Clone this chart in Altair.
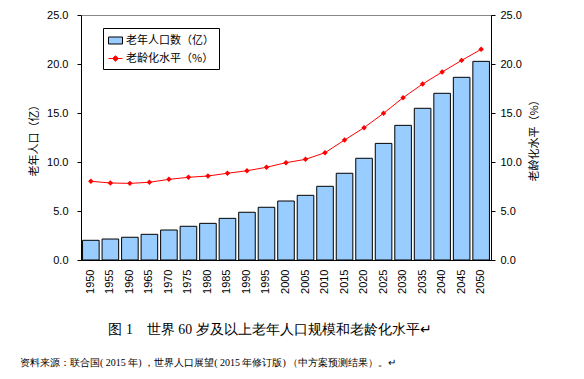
import altair as alt
import pandas as pd

years = [str(y) for y in range(1950, 2051, 5)]
elderly_pop = [2.01, 2.14, 2.32, 2.62, 3.06, 3.44, 3.74, 4.25, 4.87, 5.38, 6.02,
               6.60, 7.52, 8.85, 10.38, 11.90, 13.74, 15.48, 17.01, 18.64, 20.27]
ageing_rate = [8.03, 7.86, 7.82, 7.93, 8.23, 8.44, 8.57, 8.85, 9.11, 9.46, 9.93,
               10.27, 10.95, 12.24, 13.50, 14.97, 16.56, 17.96, 19.18, 20.37, 21.50]
series_names = ['老年人口数（亿）', '老龄化水平（%）']
y_ticks = [0, 5, 10, 15, 20, 25]
caption = '图 1　世界 60 岁及以上老年人口规模和老龄化水平↵'
source = '资料来源：联合国( 2015 年) ，世界人口展望( 2015 年修订版) （中方案预测结果）。↵'

df = pd.DataFrame({'year': years, 'pop': elderly_pop, 'rate': ageing_rate})
legend_df = pd.DataFrame({'series': series_names})

NUM_FONT = 'Liberation Sans'
CJK_FONT = 'Noto Sans CJK SC'

x_enc = alt.X('year:O', title=None,
              scale=alt.Scale(paddingInner=0.15, paddingOuter=0.08),
              axis=alt.Axis(labelAngle=270, ticks=False, labelPadding=9,
                            labelFont=NUM_FONT, labelFontSize=11,
                            labelColor='black', domainColor='black'))

bars = alt.Chart(df).mark_bar(fill='#99CCFF', stroke='black', strokeWidth=1).encode(
    x=x_enc,
    y=alt.Y('pop:Q', scale=alt.Scale(domain=[0, 25], nice=False),
            axis=alt.Axis(values=y_ticks, format='.1f', title='老年人口（亿）',
                          grid=False, tickSize=4, tickColor='black',
                          domainColor='black', labelPadding=9,
                          labelFont=NUM_FONT, labelFontSize=11, labelColor='black',
                          titleFont=CJK_FONT, titleFontSize=11, titleFontWeight='normal',
                          titleColor='black', titlePadding=7))
)

right_y = alt.Y('rate:Q', scale=alt.Scale(domain=[0, 25], nice=False),
                axis=alt.Axis(orient='right', values=y_ticks, format='.1f',
                              title='老龄化水平（%）', grid=False, tickSize=4,
                              tickColor='black', domainColor='black', labelPadding=5,
                              labelFont=NUM_FONT, labelFontSize=11, labelColor='black',
                              titleFont=CJK_FONT, titleFontSize=11,
                              titleFontWeight='normal', titleColor='black',
                              titleAngle=270, titlePadding=18))

line = alt.Chart(df).mark_line(
    color='red', strokeWidth=1,
    point=alt.OverlayMarkDef(shape='diamond', filled=True, color='red', size=30)
).encode(x=x_enc, y=right_y)

leg_common = dict(title=None, orient='none', legendX=22, legendY=13,
                  strokeColor='black', fillColor='white', padding=5,
                  labelFont=CJK_FONT, labelFontSize=11, labelColor='black',
                  symbolSize=196, symbolStrokeWidth=1, symbolOpacity=1,
                  symbolFillColor='white', symbolStrokeColor='black',
                  rowPadding=5, labelOffset=3)

legend_layer = alt.Chart(legend_df).mark_point(filled=True, opacity=0).encode(
    fill=alt.Fill('series:N', scale=alt.Scale(domain=series_names, range=['#99CCFF', 'red']),
                  legend=alt.Legend(**leg_common)),
    stroke=alt.Stroke('series:N', scale=alt.Scale(domain=series_names, range=['black', 'red']),
                      legend=alt.Legend(**leg_common)),
    shape=alt.Shape('series:N', scale=alt.Scale(domain=series_names,
                                                 range=['M-1,-0.5H1V0.5H-1Z',
                                                        'M-1,0H1M-0.4,0L0,-0.4L0.4,0L0,0.4Z']),
                    legend=alt.Legend(**leg_common)),
)

text_df = pd.DataFrame({'caption': [caption], 'source': [source]})
cap_text = alt.Chart(text_df).mark_text(font='Liberation Serif', fontSize=13.8,
                                        align='center', baseline='middle',
                                        color='black').encode(
    text='caption:N', x=alt.value(189), y=alt.value(315))
src_text = alt.Chart(text_df).mark_text(font='Liberation Serif', fontSize=10,
                                        align='left', baseline='middle',
                                        color='black').encode(
    text='source:N', x=alt.value(-61), y=alt.value(348))

chart = alt.layer(bars, line, legend_layer, cap_text, src_text).resolve_scale(
    y='independent'
).properties(
    width=410, height=245,
    autosize=alt.AutoSizeParams(type='none'),
    padding={'left': 73, 'top': 7, 'right': 70, 'bottom': 111}
).configure_view(stroke='#888888', strokeWidth=1)

chart.save("out.html", embed_options={"renderer": "svg", "actions": False})
